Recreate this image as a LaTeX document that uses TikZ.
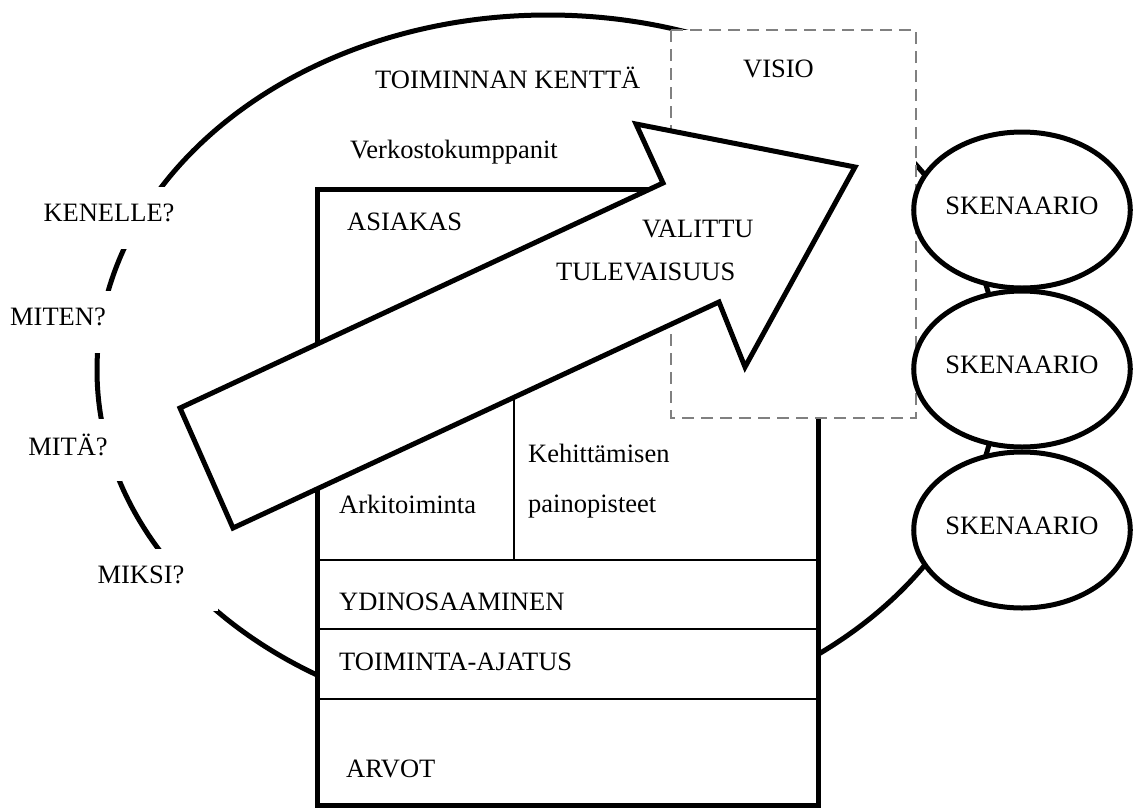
\documentclass[tikz,border=0pt]{standalone}
\usepackage{fontspec}
\setmainfont{Liberation Serif}
\usetikzlibrary{shapes.geometric}
\tikzset{
  t/.style={anchor=base west,inner sep=0pt},
  qb/.style={fill=white,inner sep=0pt,minimum height=62pt,text depth=10pt},
  sc/.style={ellipse,draw,fill=white,line width=5pt,minimum width=208pt,minimum height=156pt,inner sep=0pt,text depth=8pt},
  bold/.style={line width=5pt,line join=miter},
  rule/.style={line width=2pt},
  vis/.style={draw=gray,fill=white,line width=2.2pt,dash pattern=on 12pt off 7pt},
  every node/.style={font=\fontsize{26.5}{32}\selectfont},
}
\begin{document}
\begin{tikzpicture}[x=1pt,y=-1pt]
\useasboundingbox (0,0) rectangle (1133,807);
% toiminnan kentta
\draw[bold] (548,370) ellipse[x radius=451pt,y radius=355pt];
\node[qb,minimum width=134pt] (q1) at (109,218) {KENELLE?};
\node[qb,minimum width=108pt] (q2) at (58,322) {MITEN?};
\node[qb,minimum width=108pt] (q3) at (68,450) {MITÄ?};
\node[qb,minimum width=154pt] (q4) at (141,580) {MIKSI?};
\node[t] (kentta) at (375,88) {TOIMINNAN KENTTÄ};
\node[t] (verkosto) at (350,158) {Verkostokumppanit};
% organisaatio
\draw[bold,fill=white] (317,189) rectangle (818,805);
\draw[rule] (317,560) -- (818,560);
\draw[rule] (317,629) -- (818,629);
\draw[rule] (317,699) -- (818,699);
\draw[rule] (514,300) -- (514,560);
\node[t] (asiakas) at (347,230) {ASIAKAS};
\node[t] (arki) at (339,513) {Arkitoiminta};
\node[t] (keh1) at (528,462) {Kehittämisen};
\node[t] (keh2) at (528,512) {painopisteet};
\node[t] (ydin) at (339,610) {YDINOSAAMINEN};
\node[t] (ajatus) at (339,670) {TOIMINTA-AJATUS};
\node[t] (arvot) at (346,777) {ARVOT};
% visio
\draw[vis] (671,30) rectangle (916,418);
\node[t] (visio) at (743,77) {VISIO};
% valittu tulevaisuus
\draw[bold,fill=white] (233,528) -- (180,408) -- (663,183) -- (636,124)
  -- (855,167) -- (745,367) -- (719,302) -- cycle;
\node[t] (val1) at (642,237) {VALITTU};
\node[t] (val2) at (556,280) {TULEVAISUUS};
% skenaariot
\node[sc] (s1) at (1022,210) {SKENAARIO};
\node[sc] (s2) at (1022,369) {SKENAARIO};
\node[sc] (s3) at (1022,530) {SKENAARIO};
\end{tikzpicture}
\end{document}
